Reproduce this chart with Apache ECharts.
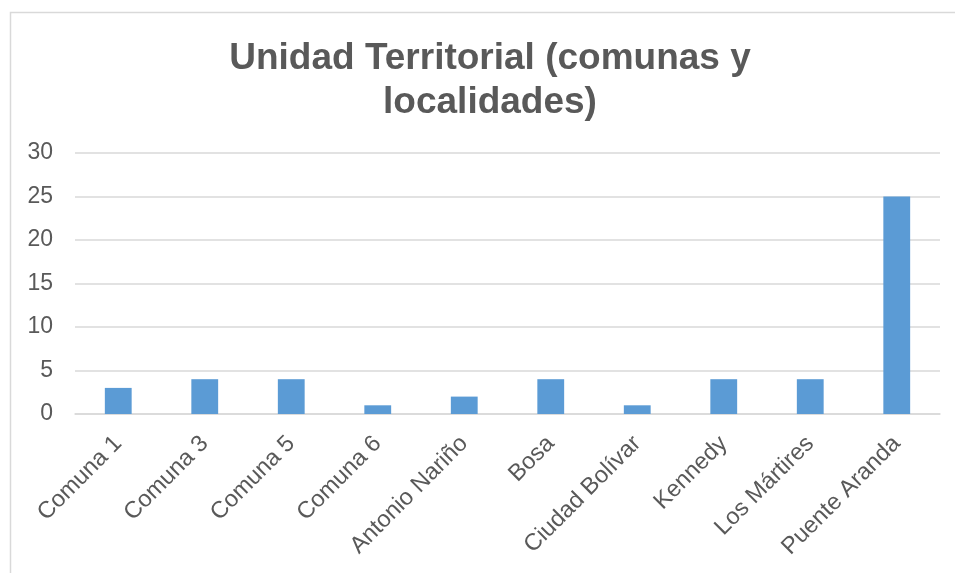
<!DOCTYPE html>
<html>
<head>
<meta charset="utf-8">
<script src="https://cdn.jsdelivr.net/npm/echarts@6/dist/echarts.min.js"></script>
<style>
  html, body { margin: 0; padding: 0; background: #ffffff; }
  #chart { width: 955px; height: 573px; }
</style>
</head>
<body>
<div id="chart"></div>
<script>
// Unidades territoriales (comunas y localidades)
const categories = ['Comuna 1', 'Comuna 3', 'Comuna 5', 'Comuna 6', 'Antonio Nariño', 'Bosa', 'Ciudad Bolívar', 'Kennedy', 'Los Mártires', 'Puente Aranda'];
const values = [3, 4, 4, 1, 2, 4, 1, 4, 4, 25];
const titleText = 'Unidad Territorial (comunas y\nlocalidades)';

const chart = echarts.init(document.getElementById('chart'), null, { renderer: 'canvas' });
const textColor = '#595959';
const lineColor = '#d9d9d9';
const fontFamily = 'Liberation Sans, Arial, sans-serif';

chart.setOption({
  animation: false,
  backgroundColor: '#ffffff',
  title: {
    text: titleText,
    left: 485,
    textAlign: 'center',
    top: 32,
    textStyle: {
      fontFamily: fontFamily,
      fontSize: 37,
      fontWeight: 'bold',
      color: textColor,
      lineHeight: 44
    }
  },
  graphic: [{
    type: 'rect',
    shape: { x: 10.5, y: 12.5, width: 960, height: 600 },
    style: { fill: 'none', stroke: lineColor, lineWidth: 1.5 },
    silent: true
  }],
  grid: { left: 75, right: 15, top: 153, bottom: 159, containLabel: false },
  xAxis: {
    type: 'category',
    data: categories,
    axisLine: { show: true, lineStyle: { color: lineColor, width: 1.5 } },
    axisTick: { show: false },
    axisLabel: {
      rotate: 45,
      interval: 0,
      margin: 26,
      color: textColor,
      fontFamily: fontFamily,
      fontSize: 23.5
    }
  },
  yAxis: {
    type: 'value',
    min: 0,
    max: 30,
    interval: 5,
    axisLine: { show: false },
    axisTick: { show: false },
    splitLine: { lineStyle: { color: lineColor, width: 1.5 } },
    axisLabel: {
      margin: 22,
      color: textColor,
      fontFamily: fontFamily,
      fontSize: 23
    }
  },
  series: [{
    type: 'bar',
    data: values,
    barWidth: '31%',
    itemStyle: { color: '#5b9bd5' }
  }]
});
</script>
</body>
</html>
